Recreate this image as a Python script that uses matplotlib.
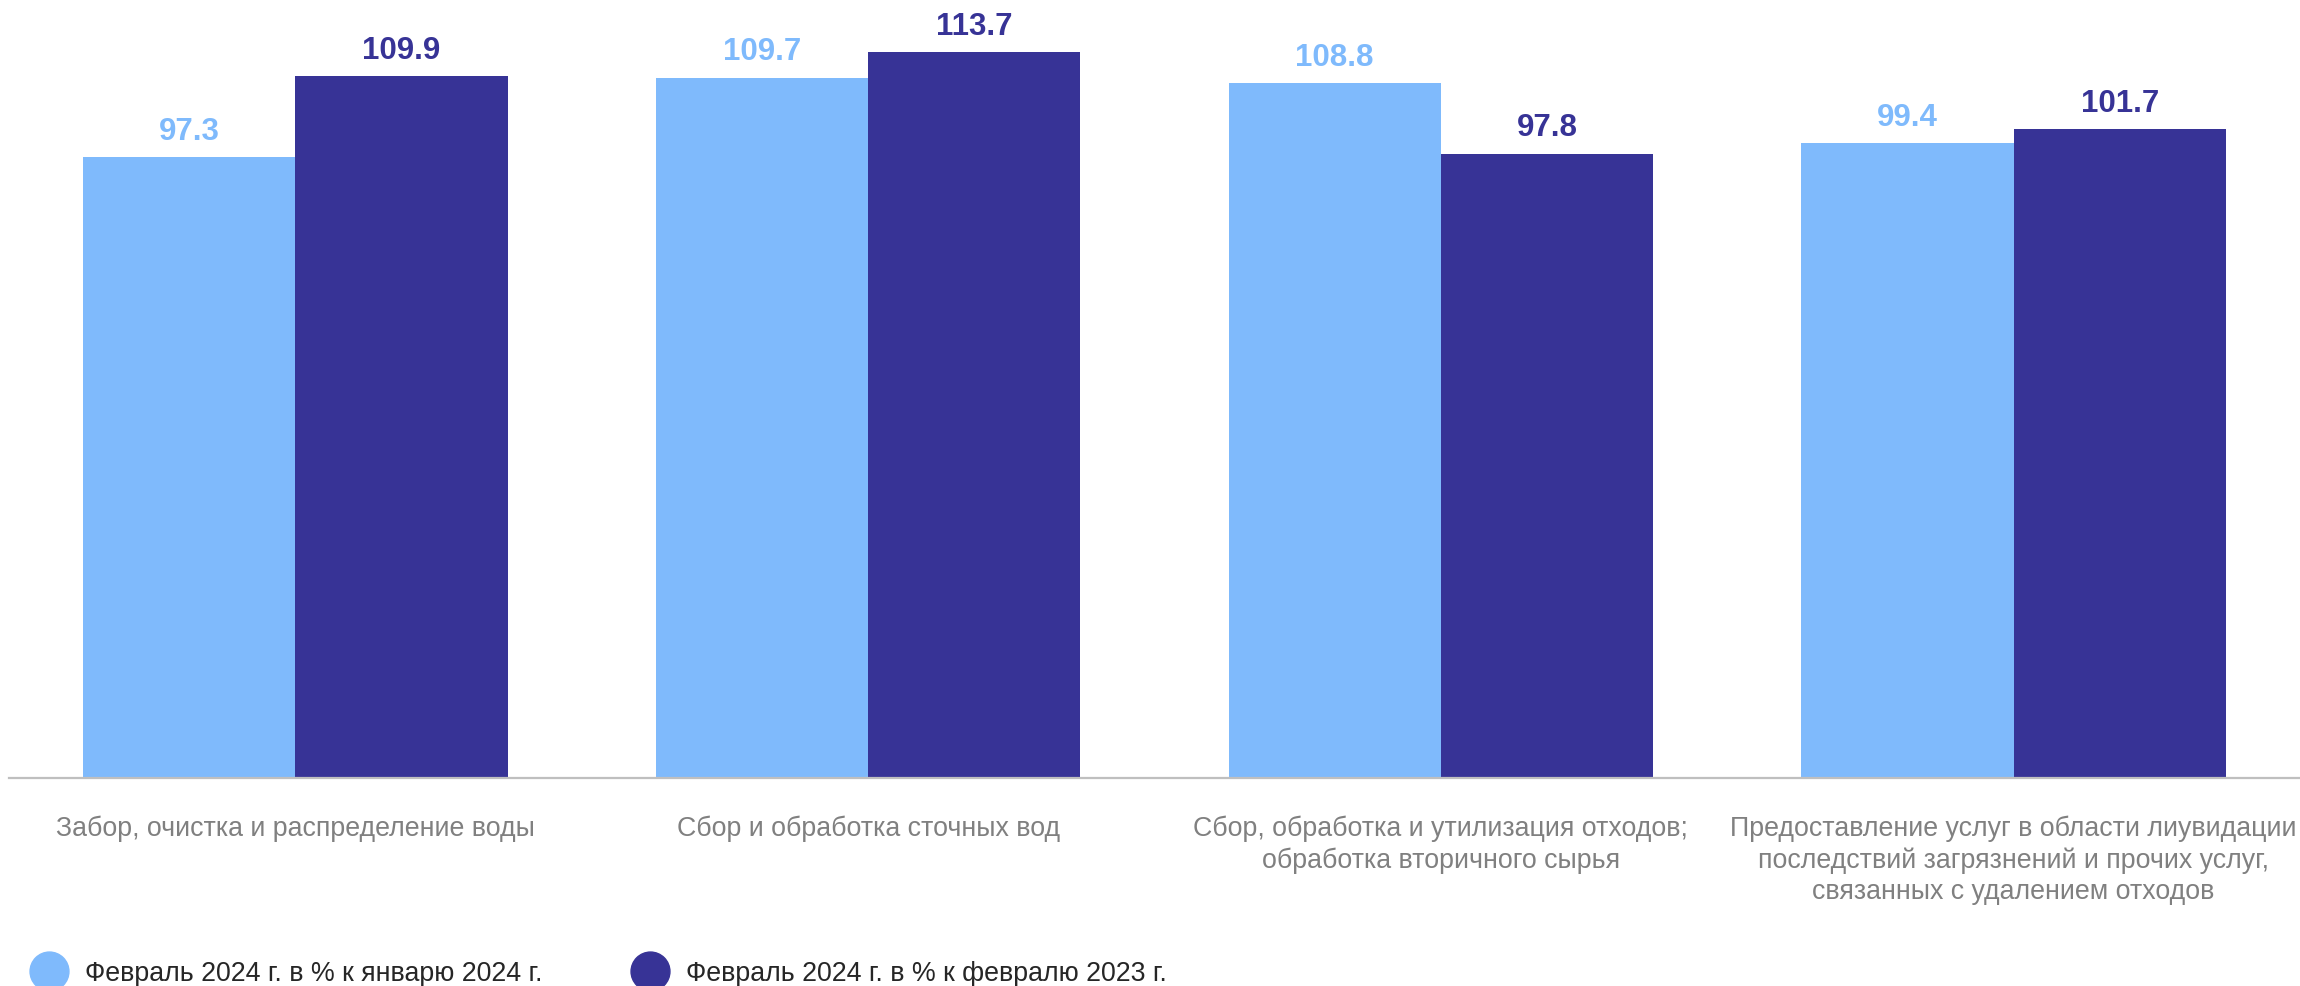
import numpy as np
import matplotlib
matplotlib.use("Agg")
import matplotlib.pyplot as plt
from matplotlib.lines import Line2D

plt.rcParams['font.family'] = ['Liberation Sans', 'DejaVu Sans']

# ---- data ----
categories = [
    'Забор, очистка и распределение воды',
    'Сбор и обработка сточных вод',
    'Сбор, обработка и утилизация отходов;\nобработка вторичного сырья',
    'Предоставление услуг в области лиувидации\nпоследствий загрязнений и прочих услуг,\nсвязанных с удалением отходов',
]
vs_january = [97.3, 109.7, 108.8, 99.4]
vs_last_year = [109.9, 113.7, 97.8, 101.7]
series_labels = [
    'Февраль 2024 г. в % к январю 2024 г.',
    'Февраль 2024 г. в % к февралю 2023 г.',
]

light = '#7fbafc'
dark = '#373396'

fig = plt.figure(figsize=(23, 9.87), dpi=100)
ax = fig.add_axes([9 / 2300, 208 / 987, 1 - 9 / 2300, 779 / 987])

x = np.arange(len(categories))
w = 0.3706
b1 = ax.bar(x - w / 2, vs_january, w, color=light, zorder=2)
b2 = ax.bar(x + w / 2, vs_last_year, w, color=dark, zorder=2)

for bars, vals, col in [(b1, vs_january, light), (b2, vs_last_year, dark)]:
    for rect, v in zip(bars, vals):
        ax.annotate(f'{v:.1f}', (rect.get_x() + rect.get_width() / 2, v),
                    xytext=(0, 13), textcoords='offset points',
                    ha='center', va='baseline', fontsize=22.5,
                    fontweight='bold', color=col)

ax.set_xlim(-0.5, len(categories) - 0.5)
ax.set_ylim(0, 122)
ax.set_yticks([])
ax.set_xticks(x)
ax.set_xticklabels(categories, fontsize=19.3, color='#808080')
for lab in ax.get_xticklabels():
    lab.set_linespacing(1.28)
ax.tick_params(axis='x', length=0, pad=26)

for s in ['left', 'right', 'top']:
    ax.spines[s].set_visible(False)
ax.spines['bottom'].set_color('#bfbfbf')
ax.spines['bottom'].set_linewidth(1.6)

# legend
handles = [Line2D([], [], linestyle='none', marker='o', markersize=28,
                  markerfacecolor=c, markeredgecolor=c) for c in (light, dark)]
fig.legend(handles, series_labels, loc='lower left',
           bbox_to_anchor=(35.6 / 2300, 0.0), ncol=2, frameon=False,
           fontsize=19.3, labelcolor='#262626', borderpad=0, borderaxespad=0,
           handlelength=1.0, handletextpad=0.84, columnspacing=3.53)

fig.savefig('out.png', dpi=100)
